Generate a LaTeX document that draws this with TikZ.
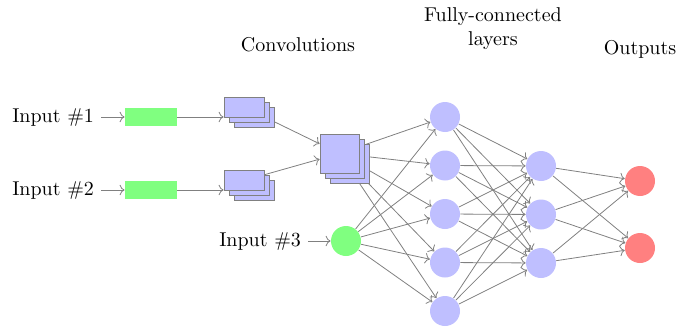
\documentclass[tikz,border=0pt]{standalone}
\usepackage{tikz}
\usetikzlibrary{arrows.meta,positioning,shadows,backgrounds}
\tikzset{
  conn/.style={->,draw=black!50},
  feat/.style={draw=black!50,fill=blue!25,inner sep=0pt,
    copy shadow={shadow xshift=5pt,shadow yshift=-5pt},
    copy shadow={shadow xshift=2.5pt,shadow yshift=-2.5pt}},
  featwide/.style={feat,minimum width=20pt,minimum height=10pt},
  featsq/.style={feat,minimum size=19.5pt},
  inbox/.style={fill=green!50,minimum width=26pt,minimum height=9pt,inner sep=0pt},
  neuron/.style={circle,fill=blue!25,minimum size=15pt,inner sep=0pt},
  inneuron/.style={neuron,fill=green!50},
  outneuron/.style={neuron,fill=red!50},
  title/.style={align=center}
}
\begin{document}
\begin{tikzpicture}[x=0.5pt,y=-0.5pt]
  \useasboundingbox (0,0) rectangle (678,326);
  % titles
  \node[title] (tconv) at (298,45) {Convolutions};
  \node[title] (tfc) at (493,29) {Fully-connected\\layers};
  \node[title] (tout) at (640,49) {Outputs};
  % inputs
  \node[anchor=east] (in1) at (101,117) {Input \#1};
  \node[anchor=east] (in2) at (101,190) {Input \#2};
  \node[anchor=east] (in3) at (308,241) {Input \#3};
  \node[inbox] (g1) at (151,117) {};
  \node[inbox] (g2) at (151,190) {};
  \node[inneuron] (g3) at (346,241) {};
  % convolutions
  \node[featwide] (c1) at (244,107) {};
  \node[featwide] (c2) at (244,180.5) {};
  \node[featsq] (c3) at (339.5,153.5) {};
  % fully-connected layers and outputs
  \foreach \i in {1,...,5}
    \node[neuron] (h\i) at (445,{68.5+48.5*\i}) {};
  \foreach \i in {1,2,3}
    \node[neuron] (f\i) at (541,{117.5+48.5*\i}) {};
  \node[outneuron] (o1) at (640,181) {};
  \node[outneuron] (o2) at (640,248) {};
  % connectors
  \begin{scope}[on background layer]
    \draw[conn] (in1) -- (g1);
    \draw[conn] (in2) -- (g2);
    \draw[conn] (in3) -- (g3);
    \draw[conn] (g1.east) -- (g1.east -| c1.west);
    \draw[conn] (g2.east) -- (g2.east -| c2.west);
    \draw[conn] (c1) -- (c3);
    \draw[conn] (c2) -- (c3);
    \foreach \i in {1,...,5} {
      \draw[conn] (c3) -- (h\i);
      \draw[conn] (g3) -- (h\i);
      \foreach \j in {1,2,3}
        \draw[conn] (h\i) -- (f\j);
    }
    \foreach \j in {1,2,3}
      \foreach \k in {1,2}
        \draw[conn] (f\j) -- (o\k);
  \end{scope}
\end{tikzpicture}
\end{document}
